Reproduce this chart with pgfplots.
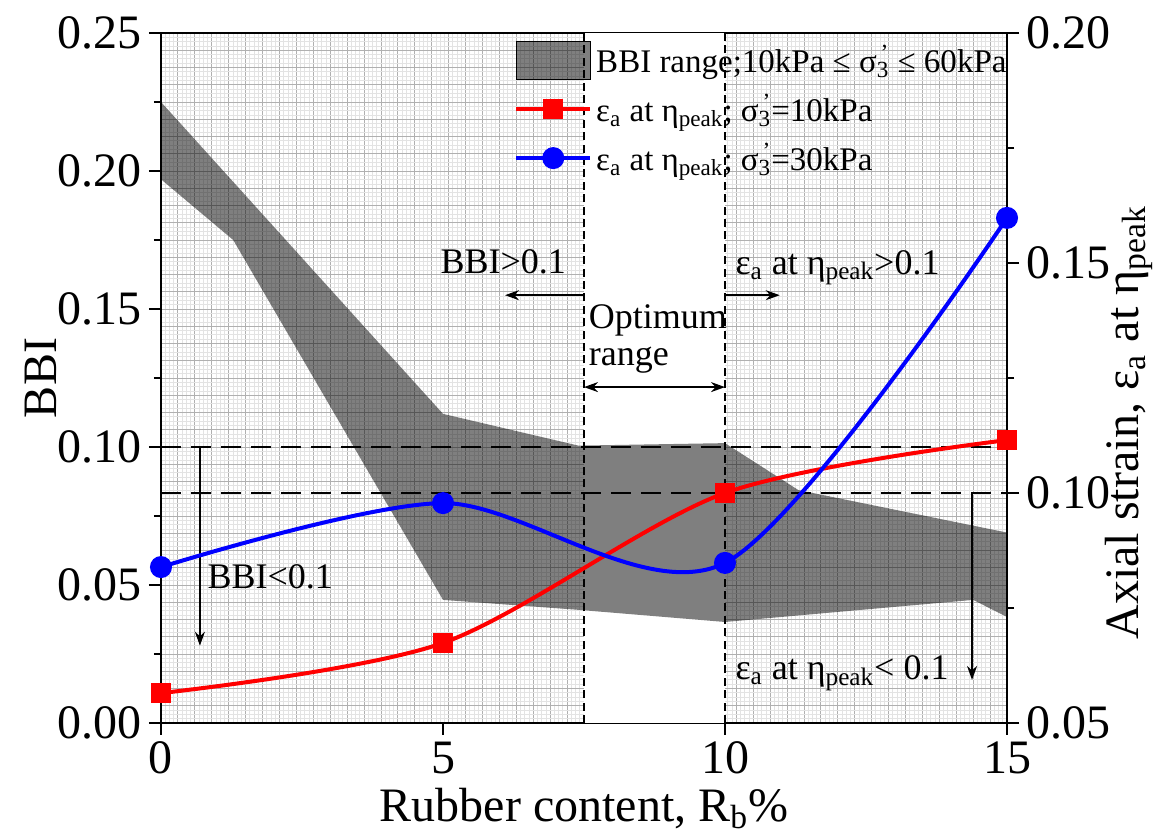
\documentclass[border=0pt]{standalone}
\usepackage{fontspec}
\setmainfont{Liberation Serif}
\usepackage{pgfplots}
\pgfplotsset{compat=1.18}
\usetikzlibrary{arrows.meta}
\newcommand\sig{σ\rlap{\textsuperscript{\,'}}\textsubscript{3}}
\newcommand\ea{ε\textsubscript{a}}
\newcommand\etp{η\textsubscript{peak}}
\newcommand\bigf{\fontsize{24}{28}\selectfont}
\newcommand\annf{\fontsize{18}{21}\selectfont}
\tikzset{ar/.style={-{Stealth[length=7pt,width=5pt]}, line width=0.9pt},
         dar/.style={{Stealth[length=7pt,width=5pt]}-{Stealth[length=7pt,width=5pt]}, line width=0.9pt}}
\begin{document}
\begin{tikzpicture}
% graph-paper background
\begin{axis}[
  at={(0,0)}, anchor=south west, scale only axis, width=423pt, height=345pt,
  xmin=0, xmax=15, ymin=0, ymax=0.25,
  xtick distance=0.3, ytick distance=0.00625,
  minor x tick num=3, minor y tick num=3,
  grid=both,
  major grid style={gray!62, line width=0.45pt},
  minor grid style={gray!22, line width=0.4pt},
  axis line style={draw=none},
  major tick length=0pt, minor tick length=0pt,
  xticklabel=\empty, yticklabel=\empty,
]
\end{axis}
% left axis: BBI
\begin{axis}[
  at={(0,0)}, anchor=south west, scale only axis, width=423pt, height=345pt,
  xmin=0, xmax=15, ymin=0, ymax=0.25,
  xtick={0,5,10,15}, ytick={0,0.05,...,0.25},
  minor ytick={0.025,0.075,...,0.225},
  xtick pos=bottom, ytick pos=left,
  tick align=outside, major tick length=6pt, minor tick length=3.5pt,
  every tick/.style={black, line width=1pt},
  axis line style={line width=1.3pt},
  ticklabel style={font=\bigf},
  /pgf/number format/assume math mode=true,
  yticklabel style={/pgf/number format/fixed, /pgf/number format/zerofill, /pgf/number format/precision=2},
  xlabel={Rubber content, R\textsubscript{b}\%},
  ylabel={BBI},
  every axis y label/.style={at={(rel axis cs:0,0.5)}, xshift=-60pt, rotate=90, anchor=center},
  label style={font=\bigf},
  clip=false,
]
\fill[white] (axis cs:7.5,0) rectangle (axis cs:10,0.25);
\addplot[draw=none, fill=black, fill opacity=0.5] coordinates {
 (0,0.225) (5,0.112) (7.4,0.1005) (10,0.1014) (11.3,0.0844) (15,0.069)
 (15,0.0384) (14.4,0.0446) (10,0.0366) (7.4,0.041) (5,0.0446) (1.28,0.175) (0,0.197)} -- cycle;
\draw[dash pattern=on 4pt off 2.2pt, line width=0.6pt] (axis cs:7.5,0) -- (axis cs:7.5,0.25);
\draw[dash pattern=on 4pt off 2.2pt, line width=0.6pt] (axis cs:10,0) -- (axis cs:10,0.25);
\draw[dash pattern=on 10pt off 5pt, line width=1.3pt] (axis cs:0,0.1) -- (axis cs:15,0.1);
\draw[dash pattern=on 10pt off 5pt, line width=1.3pt] (axis cs:0,0.08333) -- (axis cs:15,0.08333);
% annotations
\node[anchor=west, font=\annf, inner sep=0] at (axis cs:4.95,0.167) {BBI>0.1};
\draw[ar] (axis cs:7.5,0.155) -- (axis cs:6.1,0.155);
\node[anchor=west, font=\annf, inner sep=0] at (axis cs:7.58,0.146) {Optimum};
\node[anchor=west, font=\annf, inner sep=0] at (axis cs:7.58,0.1315) {range};
\draw[dar] (axis cs:7.5,0.1217) -- (axis cs:10,0.1217);
\node[anchor=west, font=\annf, inner sep=0] at (axis cs:10.18,0.165) {\ea{} at \etp>0.1};
\draw[ar] (axis cs:10,0.155) -- (axis cs:10.97,0.155);
\draw[ar] (axis cs:0.69,0.1) -- (axis cs:0.69,0.028);
\node[anchor=west, font=\annf, inner sep=0] at (axis cs:0.82,0.053) {BBI<0.1};
\draw[ar] (axis cs:14.38,0.08333) -- (axis cs:14.38,0.0156);
\node[anchor=west, font=\annf, inner sep=0] at (axis cs:10.18,0.018) {\ea{} at \etp< 0.1};
\end{axis}
% right axis: axial strain
\begin{axis}[
  at={(0,0)}, anchor=south west, scale only axis, width=423pt, height=345pt,
  xmin=0, xmax=15, ymin=0.05, ymax=0.20,
  axis x line=none, axis y line*=right,
  ytick={0.05,0.10,0.15,0.20}, minor ytick={0.075,0.125,0.175},
  tick align=outside, major tick length=6pt, minor tick length=3.5pt,
  every tick/.style={black, line width=1pt},
  axis line style={line width=1.3pt},
  ticklabel style={font=\bigf},
  /pgf/number format/assume math mode=true,
  yticklabel style={/pgf/number format/fixed, /pgf/number format/zerofill, /pgf/number format/precision=2},
  ylabel={Axial strain, \ea{} at \etp},
  every axis y label/.style={at={(rel axis cs:1,0.435)}, xshift=61pt, rotate=90, anchor=center},
  label style={font=\bigf},
  legend style={draw=none, fill=none, at={(0.41,0.995)}, anchor=north west,
    font=\fontsize{16.5}{19}\selectfont, row sep=5pt},
  legend cell align=left,
  legend image code/.code={\draw[mark repeat=2,mark phase=2,#1] plot coordinates {(0cm,0cm)(0.65cm,0cm)(1.3cm,0cm)};},
  clip=false,
]
\addlegendimage{legend image code/.code={\fill[black, fill opacity=0.5] (0cm,-0.33cm) rectangle (1.3cm,0.33cm);}}
\addlegendentry{BBI range;10kPa ≤ \sig{} ≤ 60kPa}
\addplot[red, line width=2pt, smooth, mark=square*, mark size=4pt, mark options={solid}] coordinates {
 (0,0.0565) (5,0.0674) (10,0.1000) (15,0.1115)};
\addlegendentry{\ea{} at \etp; \sig=10kPa}
\addplot[blue, line width=2pt, smooth, mark=*, mark size=4.5pt] coordinates {
 (0,0.0839) (5,0.0978) (10,0.0848) (15,0.1598)};
\addlegendentry{\ea{} at \etp; \sig=30kPa}
\end{axis}
\pgfresetboundingbox
\path (-80.5pt,-57.5pt) rectangle (499pt,361.5pt);
\end{tikzpicture}
\end{document}
